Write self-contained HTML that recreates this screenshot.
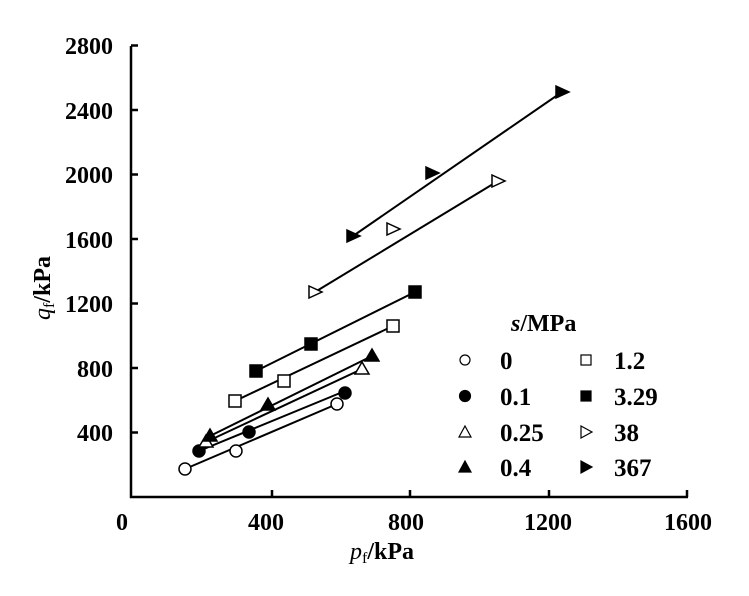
<!DOCTYPE html>
<html><head><style>body{margin:0;background:#fff}</style></head><body>
<svg width="749" height="591" xmlns="http://www.w3.org/2000/svg" font-family="Liberation Serif, serif" font-weight="bold">
<g stroke="#000" stroke-width="2.5" fill="none">
<path d="M131 46 V497 H688"/>
<path d="M131 432.5h7M131 368h7M131 303.5h7M131 239h7M131 174.5h7M131 110h7M131 45.5h7"/>
<path d="M272 497v-7M410 497v-7M549 497v-7M687 497v-7"/>
</g>
<g font-size="24" text-anchor="end">
<text x="113" y="441">400</text><text x="113" y="377">800</text><text x="113" y="312">1200</text>
<text x="113" y="248">1600</text><text x="113" y="183">2000</text><text x="113" y="119">2400</text><text x="113" y="54">2800</text>
</g>
<g font-size="24" text-anchor="middle">
<text x="122" y="530">0</text><text x="266" y="530">400</text><text x="406" y="530">800</text><text x="548" y="530">1200</text><text x="688" y="530">1600</text>
</g>
<text x="350" y="559" font-size="24"><tspan font-style="italic" font-weight="normal">p</tspan><tspan font-size="16" font-weight="normal" dy="4">f</tspan><tspan dy="-4">/kPa</tspan></text>
<text transform="translate(50,320) rotate(-90)" font-size="24"><tspan font-style="italic" font-weight="normal">q</tspan><tspan font-size="16" font-weight="normal" dy="4">f</tspan><tspan dy="-4">/kPa</tspan></text>
<g stroke="#000" stroke-width="2" fill="none">
<path d="M185 469L337 404"/>
<path d="M199 451L345 391"/>
<path d="M206 442L362 369"/>
<path d="M210 436L372 356"/>
<path d="M235 401L393 326"/>
<path d="M256 371L415 292"/>
<path d="M315 292L498 181"/>
<path d="M353 236L562 92"/>
</g>
<g stroke="#000" stroke-width="1.5">
<g fill="#fff"><circle cx="185" cy="469" r="6"/><circle cx="236" cy="451" r="6"/><circle cx="337" cy="404" r="6"/></g>
<g fill="#000"><circle cx="199" cy="451" r="6"/><circle cx="249" cy="432" r="6"/><circle cx="345" cy="393" r="6"/></g>
<g fill="#fff"><path d="M206 435l7 12h-14z"/><path d="M362 362l7 12h-14z"/></g>
<g fill="#000"><path d="M210 429l7 12h-14z"/><path d="M268 398l7 12h-14z"/><path d="M372 349l7 12h-14z"/></g>
<g fill="#fff"><rect x="229" y="395" width="12" height="12"/><rect x="278" y="375" width="12" height="12"/><rect x="387" y="320" width="12" height="12"/></g>
<g fill="#000"><rect x="250" y="365" width="12" height="12"/><rect x="305" y="338" width="12" height="12"/><rect x="409" y="286" width="12" height="12"/></g>
<g fill="#fff"><path d="M309 286l13 6l-13 6z"/><path d="M387 223l13 6l-13 6z"/><path d="M492 175l13 6l-13 6z"/></g>
<g fill="#000"><path d="M347 230l13 6l-13 6z"/><path d="M426 167l13 6l-13 6z"/><path d="M556 86l13 6l-13 6z"/></g>
</g>
<text x="511" y="331" font-size="24"><tspan font-style="italic">s</tspan>/MPa</text>
<g font-size="25">
<text x="500" y="369">0</text><text x="500" y="405">0.1</text><text x="500" y="441">0.25</text><text x="500" y="476">0.4</text>
<text x="614" y="369">1.2</text><text x="614" y="405">3.29</text><text x="614" y="441">38</text><text x="614" y="476">367</text>
</g>
<g stroke="#000" stroke-width="1.2">
<circle cx="465" cy="360" r="5" fill="#fff"/>
<circle cx="465" cy="396" r="5.5" fill="#000"/>
<path d="M465 426l6 11h-12z" fill="#fff"/>
<path d="M465 461l6 11h-12z" fill="#000"/>
<rect x="581" y="355" width="10" height="10" fill="#fff"/>
<rect x="581" y="391" width="10" height="10" fill="#000"/>
<path d="M581 426l11 6l-11 6z" fill="#fff"/>
<path d="M581 461l11 6l-11 6z" fill="#000"/>
</g>
</svg>
</body></html>
